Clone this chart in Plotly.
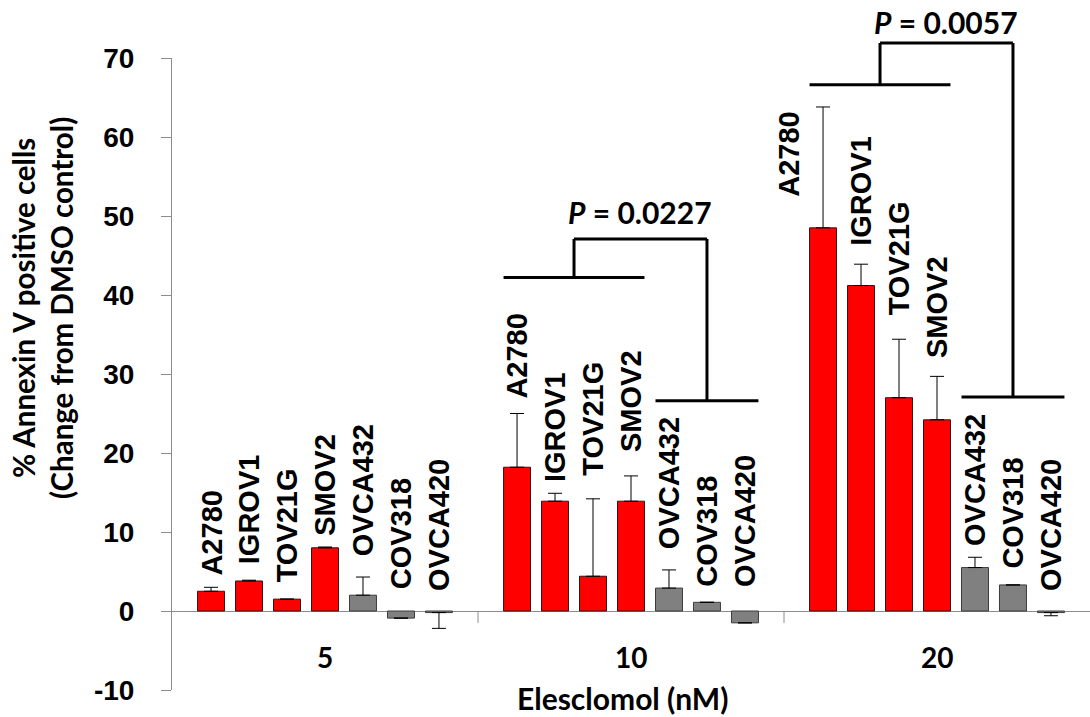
import plotly.graph_objects as go

# ---------------- data ----------------
doses = ["5", "10", "20"]
cell_lines = ["A2780", "IGROV1", "TOV21G", "SMOV2", "OVCA432", "COV318", "OVCA420"]
sensitive = [True, True, True, True, False, False, False]

a2780 = [2.5, 18.2, 48.5]
igrov1 = [3.8, 13.9, 41.2]
tov21g = [1.5, 4.4, 27.0]
smov2 = [8.0, 13.9, 24.2]
ovca432 = [2.0, 2.9, 5.5]
cov318 = [-0.9, 1.1, 3.3]
ovca420 = [-0.2, -1.5, -0.2]

a2780_err = [0.5, 6.8, 15.3]
igrov1_err = [0.1, 1.0, 2.7]
tov21g_err = [0.0, 9.8, 7.4]
smov2_err = [0.1, 3.2, 5.5]
ovca432_err = [2.3, 2.3, 1.3]
cov318_err = [0.0, 0.0, 0.0]
ovca420_err = [2.0, 0.0, 0.4]

values = [a2780, igrov1, tov21g, smov2, ovca432, cov318, ovca420]
errors = [a2780_err, igrov1_err, tov21g_err, smov2_err, ovca432_err, cov318_err, ovca420_err]

# comparison brackets (sensitive vs resistant) at doses 10 and 20
p_values = ["0.0227", "0.0057"]
p_doses = [1, 2]

# y tick labels
y_tickvals = [-10, 0, 10, 20, 30, 40, 50, 60, 70]
y_ticktext = ["-10", "0", "10", "20", "30", "40", "50", "60", "70"]

# ---------------- layout settings ----------------
label_base = [
    [4.3, 26.7, 52.3],
    [5.8, 16.2, 46.1],
    [3.5, 17.0, 37.3],
    [9.4, 20.0, 31.9],
    [6.8, 7.7, 8.1],
    [2.7, 3.0, 5.3],
    [2.4, 2.9, 2.4],
]
label_shift = [
    [0, 0, -0.11],
    [0, 0, 0],
    [0, 0, 0],
    [0, 0, 0],
    [0, 0, 0],
    [0, 0, 0],
    [0, 0, 0],
]
bracket_sens_level = [42.2, 66.6]
bracket_top_level = [47.1, 71.9]
bracket_res_level = [26.6, 27.1]
p_text_level = [50.5, 74.6]

YMIN, YMAX = -10, 70
XMIN, XMAX = -0.5, len(doses) - 0.5
BARGAP = 0.131
GROUPGAP = 0.29

RED = "#FF0000"
GRAY = "#808080"
AXIS_COLOR = "#8C8C8C"
CAL = "Lato"
ARIAL = "Liberation Sans"

n = len(cell_lines)
slot = (1 - BARGAP) / n
half = slot * (1 - GROUPGAP) / 2


def bar_center(i, g):
    return g + (i - (n - 1) / 2) * slot


def xp(v):
    return (v - XMIN) / (XMAX - XMIN)


def yp(v):
    return (v - YMIN) / (YMAX - YMIN)


fig = go.Figure()
xs = list(range(len(doses)))
for i, name in enumerate(cell_lines):
    vals = values[i]
    errs = errors[i]
    plus = [e if v >= 0 else 0 for v, e in zip(vals, errs)]
    minus = [0 if v >= 0 else e for v, e in zip(vals, errs)]
    fill = RED if sensitive[i] else GRAY
    outline = "#3A1010" if sensitive[i] else "#3C3C3C"
    fig.add_trace(go.Bar(
        x=xs, y=vals, name=name,
        marker=dict(color=fill, line=dict(color=outline, width=1)),
        error_y=dict(type="data", symmetric=False, array=plus, arrayminus=minus,
                     color="black", thickness=1, width=7),
        showlegend=False, hoverinfo="skip",
    ))

annotations = []
# rotated cell line labels
for i, name in enumerate(cell_lines):
    for g in xs:
        annotations.append(dict(
            x=bar_center(i, g) + label_shift[i][g], y=label_base[i][g],
            xref="x", yref="y", text=name, textangle=-90, showarrow=False,
            xanchor="center", yanchor="bottom", borderpad=0,
            font=dict(family=ARIAL, size=29, color="black", weight="bold"),
        ))

# category labels
for g, d in enumerate(doses):
    annotations.append(dict(
        x=g, y=-5.8, xref="x", yref="y", text=d, showarrow=False,
        xanchor="center", yanchor="middle",
        font=dict(family=CAL, size=28, color="black", weight="bold"),
    ))

# x title
annotations.append(dict(
    x=(622 - 172) / 918, y=yp(-11.0), xref="paper", yref="paper",
    text="Elesclomol (nM)", showarrow=False, xanchor="center", yanchor="middle",
    font=dict(family=CAL, size=30, color="black", weight="bold"),
))

# y title
annotations.append(dict(
    x=(42 - 172) / 918, y=(690 - 308) / 632, xref="paper", yref="paper",
    text="% Annexin V positive cells<br>(Change from DMSO control)",
    textangle=-90, showarrow=False, xanchor="center", yanchor="middle",
    font=dict(family=CAL, size=29.5, color="black", weight="bold"),
))

shapes = []
line_style = dict(color="black", width=3)
for k, g in enumerate(p_doses):
    s_left = bar_center(0, g) - half
    s_right = bar_center(3, g) + half
    r_left = bar_center(4, g) - half
    r_right = bar_center(6, g) + half
    s_mid = (s_left + s_right) / 2
    r_mid = (r_left + r_right) / 2
    sens_y = bracket_sens_level[k]
    top_y = bracket_top_level[k]
    res_y = bracket_res_level[k]
    segs = [
        (s_left, sens_y, s_right, sens_y),
        (s_mid, sens_y, s_mid, top_y),
        (s_mid, top_y, r_mid, top_y),
        (r_mid, top_y, r_mid, res_y),
        (r_left, res_y, r_right, res_y),
    ]
    for x0, y0, x1, y1 in segs:
        shapes.append(dict(type="line", xref="paper", yref="paper",
                           x0=xp(x0), y0=yp(y0), x1=xp(x1), y1=yp(y1),
                           line=line_style))
    annotations.append(dict(
        x=xp((s_mid + r_mid) / 2), y=yp(p_text_level[k]), xref="paper", yref="paper",
        text="<i>P</i> = " + p_values[k], showarrow=False,
        xanchor="center", yanchor="middle",
        font=dict(family=CAL, size=30, color="black", weight="bold"),
    ))

# category separator ticks on the zero line
for g in range(len(doses) - 1):
    shapes.append(dict(type="line", xref="x", yref="y",
                       x0=g + 0.5, x1=g + 0.5, y0=0, y1=-1.5,
                       line=dict(color=AXIS_COLOR, width=1)))

fig.update_layout(
    template="none",
    width=1090, height=717,
    margin=dict(l=172, r=0, t=58, b=27, autoexpand=False),
    paper_bgcolor="white", plot_bgcolor="white",
    barmode="group", bargap=BARGAP, bargroupgap=GROUPGAP,
    annotations=annotations, shapes=shapes,
    xaxis=dict(range=[XMIN, XMAX], showgrid=False, zeroline=False, showline=False,
               showticklabels=False, ticks="", automargin=False),
    yaxis=dict(range=[YMIN, YMAX], tickmode="array", tickvals=y_tickvals, ticktext=y_ticktext,
               showgrid=False, zeroline=True, zerolinecolor=AXIS_COLOR, zerolinewidth=1,
               showline=True, linecolor=AXIS_COLOR, linewidth=1, automargin=False,
               ticks="outside", ticklen=10, tickcolor=AXIS_COLOR, tickwidth=1,
               ticklabelstandoff=21,
               tickfont=dict(family=ARIAL, size=28, color="black", weight="bold")),
)

fig.write_html(
    "out.html",
    config={"displayModeBar": False, "staticPlot": True},
    post_script="document.body.style.margin='0';document.body.style.overflow='hidden';",
)
